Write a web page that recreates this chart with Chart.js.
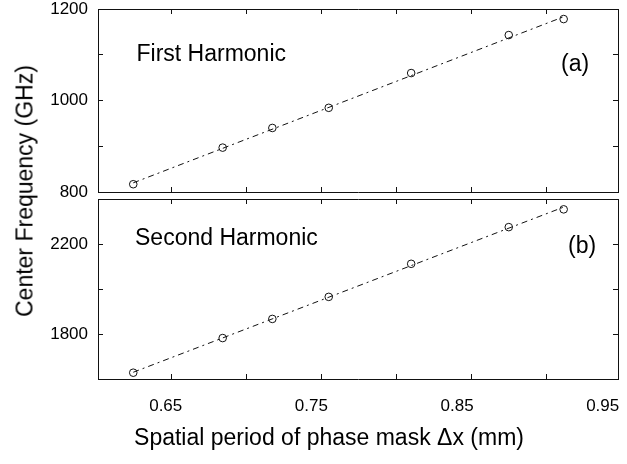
<!DOCTYPE html>
<html>
<head>
<meta charset="utf-8">
<title>Center frequency vs phase mask period</title>
<script src="https://cdn.jsdelivr.net/npm/chart.js@4.4.1/dist/chart.umd.min.js"></script>
<style>
  body { margin: 0; background: #fff; }
  #wrap { position: relative; width: 627px; height: 464px; font-family: "Liberation Sans", Arial, sans-serif; color: #000; }
  #top, #bottom { position: absolute; left: 0; }
  #top { top: 0; }
  #bottom { top: 194px; }
  .axis-title { position: absolute; font-size: 23px; line-height: 1; white-space: nowrap; }
  #ytitle { left: 25px; top: 191px; transform: translate(-50%, -50%) rotate(-90deg); }
  #xtitle { left: 329px; top: 437px; transform: translate(-50%, -50%); }
</style>
</head>
<body>
<div id="wrap">
  <canvas id="top" width="627" height="200"></canvas>
  <canvas id="bottom" width="627" height="270"></canvas>
  <div class="axis-title" id="ytitle">Center Frequency (GHz)</div>
  <div class="axis-title" id="xtitle">Spatial period of phase mask Δx (mm)</div>
</div>
<script>
// phase mask period (mm) and measured centre frequencies (GHz)
const period = [0.6277, 0.6891, 0.7232, 0.7619, 0.8185, 0.8855, 0.9232];
const firstHarmonic = [817, 897, 940, 984, 1060, 1143, 1178];
const secondHarmonic = [1628, 1782, 1867, 1965, 2112, 2275, 2354];

// dashed linear fit, drawn between its two end points
const fitPeriod = [0.6277, 0.9232];
const firstFit = [820, 1183];
const secondFit = [1630, 2364];

// labelled ticks
const xTickLabels = [0.65, 0.75, 0.85, 0.95];
const firstTickLabels = [800, 1000, 1200];
const secondTickLabels = [1800, 2200];

const ink = '#111';
const tickFont = { family: '"Liberation Sans Narrow", "Liberation Sans", Arial, sans-serif', size: 17 };

// force a scale box to a fixed size so both panels line up
const fixSize = (w, h) => (scale) => {
  if (w !== null) scale.width = w;
  if (h !== null) scale.height = h;
  scale.paddingLeft = scale.paddingRight = scale.paddingTop = scale.paddingBottom = 0;
};

// short tick marks pointing into the plot
const inward = { display: true, drawOnChartArea: false, drawTicks: true, tickLength: -5, color: ink, lineWidth: 1 };
const frame = { display: true, color: ink, width: 1 };

const panelText = {
  id: 'panelText',
  afterDatasetsDraw(chart, args, opts) {
    const { ctx, chartArea } = chart;
    ctx.save();
    ctx.fillStyle = '#000';
    ctx.font = '23px "Liberation Sans", Arial, sans-serif';
    ctx.textAlign = 'left';
    ctx.textBaseline = 'alphabetic';
    opts.items.forEach(t => ctx.fillText(t.text, chartArea.left + t.dx, chartArea.top + t.dy));
    ctx.restore();
  }
};

function makePanel(canvas, values, fit, yMin, yMax, yStep, yLabels, opts) {
  return new Chart(canvas, {
    type: 'scatter',
    data: {
      datasets: [
        {
          xAxisID: 'x',
          yAxisID: 'y',
          data: fitPeriod.map((x, i) => ({ x, y: fit[i] })),
          showLine: true,
          borderColor: ink,
          borderWidth: 1,
          borderDash: [6, 4, 2, 4],
          pointRadius: 0
        },
        {
          xAxisID: 'x',
          yAxisID: 'y',
          data: period.map((x, i) => ({ x, y: values[i] })),
          showLine: false,
          pointStyle: 'circle',
          pointRadius: 3.8,
          pointBorderWidth: 1,
          pointBorderColor: ink,
          pointBackgroundColor: 'rgba(0,0,0,0)'
        }
      ]
    },
    options: {
      responsive: false,
      animation: false,
      devicePixelRatio: 1,
      layout: { padding: { left: 0, right: 0, top: 0, bottom: opts.bottomPad } },
      plugins: {
        legend: { display: false },
        tooltip: { enabled: false },
        panelText: { items: opts.text }
      },
      scales: {
        // data axis with the labels
        x: {
          type: 'linear', position: 'bottom', weight: 1,
          display: opts.showX,
          min: 0.6035, max: 0.9605,
          grid: { display: false, drawTicks: false },
          border: { display: false },
          ticks: {
            stepSize: 0.05, includeBounds: false, autoSkip: false, maxRotation: 0,
            padding: 17, color: '#000', font: tickFont,
            callback: (v) => xTickLabels.includes(Math.round(v * 100) / 100) ? v.toFixed(2) : ''
          },
          afterFit: fixSize(null, opts.showX ? 85 : 0)
        },
        // tick marks along bottom edge
        xt: {
          type: 'linear', position: 'bottom', weight: 0,
          min: 0.6011, max: 0.9477,
          grid: inward, border: frame,
          ticks: { display: false, stepSize: 0.05, includeBounds: false },
          afterFit: fixSize(null, 0)
        },
        xtop: {
          type: 'linear', position: 'top',
          min: 0.6011, max: 0.9477,
          grid: inward, border: frame,
          ticks: { display: false, stepSize: 0.05, includeBounds: false },
          afterFit: fixSize(null, opts.topPad)
        },
        y: {
          type: 'linear', position: 'left',
          min: yMin, max: yMax,
          grid: inward, border: frame,
          ticks: {
            stepSize: yStep, padding: 15, color: '#000', font: tickFont,
            callback: (v) => yLabels.includes(v) ? String(v) : ''
          },
          afterFit: fixSize(98, null)
        },
        yr: {
          type: 'linear', position: 'right',
          min: yMin, max: yMax,
          grid: inward, border: frame,
          ticks: { display: false, stepSize: yStep },
          afterFit: fixSize(9, null)
        }
      }
    },
    plugins: [panelText]
  });
}

makePanel(document.getElementById('top'), firstHarmonic, firstFit, 800, 1200, 100, firstTickLabels, {
  showX: false, topPad: 9, bottomPad: 8,
  text: [
    { text: 'First Harmonic', dx: 38.5, dy: 52 },
    { text: '(a)', dx: 463, dy: 62 }
  ]
});

makePanel(document.getElementById('bottom'), secondHarmonic, secondFit, 1600, 2400, 200, secondTickLabels, {
  showX: true, topPad: 3, bottomPad: 0,
  text: [
    { text: 'Second Harmonic', dx: 37, dy: 45.5 },
    { text: '(b)', dx: 470, dy: 54 }
  ]
});
</script>
</body>
</html>
